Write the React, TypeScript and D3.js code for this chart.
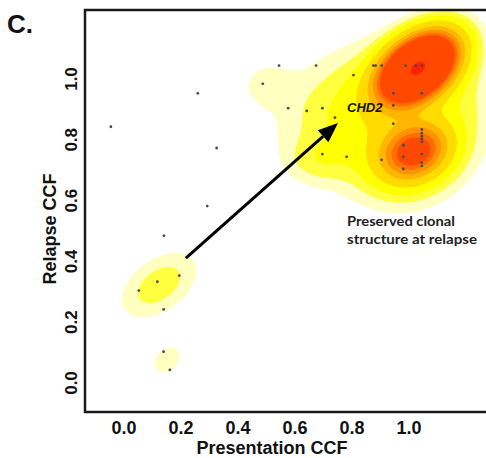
import React, { useMemo } from 'react';
import * as d3 from 'd3';

const W = 486;
const H = 458;

// ---- data: mutations (presentation CCF, relapse CCF) ----
const presentationCCF = [
  0.544, 0.674, 0.875, 0.883, 0.904, 0.988, 1.024, 1.045, 0.805, 0.487,
  0.945, 1.045, 0.576, 0.641, 0.696, 0.945, 0.740, 0.945, 1.045, 1.045,
  1.045, 1.045, 1.045, 0.980, 1.045, 0.980, 0.696, 0.781, 0.904, 0.980,
  1.045, 1.045, -0.046, 0.325, 0.292, 0.140, 0.259, 0.194, 0.117, 0.052,
  0.139, 0.139, 0.161,
];
const relapseCCF = [
  1.044, 1.044, 1.044, 1.044, 1.044, 1.044, 1.044, 1.044, 1.013, 0.984,
  0.953, 0.953, 0.904, 0.895, 0.904, 0.913, 0.873, 0.853, 0.834, 0.822,
  0.812, 0.803, 0.793, 0.782, 0.753, 0.744, 0.753, 0.744, 0.734, 0.704,
  0.725, 0.714, 0.843, 0.773, 0.582, 0.484, 0.953, 0.353, 0.333, 0.304,
  0.242, 0.103, 0.043,
];

// ---- fitted density components (centre, spread, correlation, height) ----
const compCX = [1.032, 1.018, 0.123, 0.151, 0.925, 0.505, 0.681, 1.01];
const compCY = [1.036, 0.760, 0.322, 0.076, 0.900, 0.980, 0.734, 0.735];
const compSX = [0.077, 0.071, 0.091, 0.052, 0.205, 0.063, 0.070, 0.125];
const compSY = [0.065, 0.055, 0.074, 0.047, 0.135, 0.049, 0.046, 0.10];
const compRho = [0.41, 0.2, 0.45, 0.3, 0.2, 0.0, 0.0, 0.15];
const compPeak = [3.8, 1.13, 0.097, 0.05, 0.2, 0.05, 0.06, 0.13];

const levelThresholds = [0.035, 0.07, 0.12, 0.23, 0.43, 0.62, 0.82, 1.0, 3.7];
const levelColors = [
  '#FFFFBF', '#FFFF40', '#FFFF00', '#FFDB00', '#FFB600',
  '#FF9200', '#FF6D00', '#FF4900', '#FF2400',
];

const xTicks = [0, 0.2, 0.4, 0.6, 0.8, 1.0];
const yTicks = [0, 0.2, 0.4, 0.6, 0.8, 1.0];

const arrowFrom = [0.217, 0.411];
const arrowTo = [0.751, 0.855];

const FONT = '"Liberation Sans", Arial, sans-serif';

function density(x: number, y: number): number {
  let s = 0;
  for (let k = 0; k < compCX.length; k++) {
    const dx = (x - compCX[k]) / compSX[k];
    const dy = (y - compCY[k]) / compSY[k];
    const r = compRho[k];
    const q = (dx * dx - 2 * r * dx * dy + dy * dy) / (1 - r * r);
    s += compPeak[k] * Math.exp(-0.5 * q);
  }
  return s;
}

export default function App() {
  const left = 85, top = 10, bottom = 412, right = 520;
  const x = d3.scaleLinear().domain([0, 1]).range([124, 409]);
  const y = d3.scaleLinear().domain([0, 1]).range([383, 79]);

  const contours = useMemo(() => {
    const step = 2;
    const x0 = left, y0 = top;
    const nx = Math.ceil((W - x0) / step) + 2;
    const ny = Math.ceil((bottom - y0) / step) + 2;
    const vals = new Array(nx * ny);
    for (let j = 0; j < ny; j++) {
      for (let i = 0; i < nx; i++) {
        const px = x0 + i * step;
        const py = y0 + j * step;
        vals[j * nx + i] = density(x.invert(px), y.invert(py));
      }
    }
    const gen = d3.contours().size([nx, ny]).thresholds(levelThresholds);
    const polys = gen(vals);
    const proj = d3.geoTransform({
      point(this: any, gx: number, gy: number) {
        this.stream.point(x0 + (gx - 0.5) * step, y0 + (gy - 0.5) * step);
      },
    });
    const path = d3.geoPath(proj);
    return polys.map((p, i) => ({ d: path(p as any) || '', color: levelColors[i] }));
  }, []);

  const ax = x(arrowFrom[0]), ay = y(arrowFrom[1]);
  const bx = x(arrowTo[0]), by = y(arrowTo[1]);
  const len = Math.hypot(bx - ax, by - ay);
  const ux = (bx - ax) / len, uy = (by - ay) / len;
  const headL = 20, headW = 8;
  const hx = bx - ux * headL, hy = by - uy * headL;
  const head = `M${bx},${by}L${hx + uy * headW},${hy - ux * headW}L${hx - uy * headW},${hy + ux * headW}Z`;

  return (
    <svg width={W} height={H} style={{ position: 'absolute', left: 0, top: 0, background: '#fff' }}>
      <defs>
        <clipPath id="plotclip">
          <rect x={left} y={top} width={right - left} height={bottom - top} />
        </clipPath>
      </defs>
      <rect x={0} y={0} width={W} height={H} fill="#fff" />
      <g clipPath="url(#plotclip)">
        {contours.map((c, i) => (
          <path key={i} d={c.d} fill={c.color} stroke="none" />
        ))}
      </g>
      {presentationCCF.map((v, i) => (
        <circle key={i} cx={x(v)} cy={y(relapseCCF[i])} r={1.4} fill="#4a4a4a" />
      ))}
      <line x1={ax} y1={ay} x2={hx} y2={hy} stroke="#000" strokeWidth={3} />
      <path d={head} fill="#000" />
      <path d={`M${right},${top}H${left}V${bottom}H${right}`} fill="none" stroke="#1a1a1a" strokeWidth={2.5} />

      <text x={7} y={33} fontFamily={FONT} fontWeight="bold" fontSize={26} fill="#111">C.</text>

      {xTicks.map((t) => (
        <text key={t} x={x(t)} y={434} textAnchor="middle" fontFamily={FONT} fontWeight="bold" fontSize={18} fill="#111">
          {t.toFixed(1)}
        </text>
      ))}
      {yTicks.map((t) => (
        <text key={t} transform={`translate(71,${y(t)}) rotate(-90)`} textAnchor="middle" dy="0.36em" fontFamily={FONT} fontWeight="bold" fontSize={17} fill="#111">
          {t.toFixed(1)}
        </text>
      ))}
      <text x={272} y={454} textAnchor="middle" fontFamily={FONT} fontWeight="bold" fontSize={18} fill="#111">Presentation CCF</text>
      <text transform="translate(50,229) rotate(-90)" textAnchor="middle" dy="0.36em" fontFamily={FONT} fontWeight="bold" fontSize={18} fill="#111">Relapse CCF</text>

      <text x={347} y={112} fontFamily={FONT} fontWeight="bold" fontStyle="italic" fontSize={13} fill="#111">CHD2</text>
      <text x={347} y={226} fontFamily="Lato, 'Open Sans', sans-serif" fontWeight="bold" fontSize={13.5} fill="#222" textLength={108} lengthAdjust="spacingAndGlyphs">Preserved clonal</text>
      <text x={347} y={244} fontFamily="Lato, 'Open Sans', sans-serif" fontWeight="bold" fontSize={13.5} fill="#222" textLength={130} lengthAdjust="spacingAndGlyphs">structure at relapse</text>
    </svg>
  );
}
